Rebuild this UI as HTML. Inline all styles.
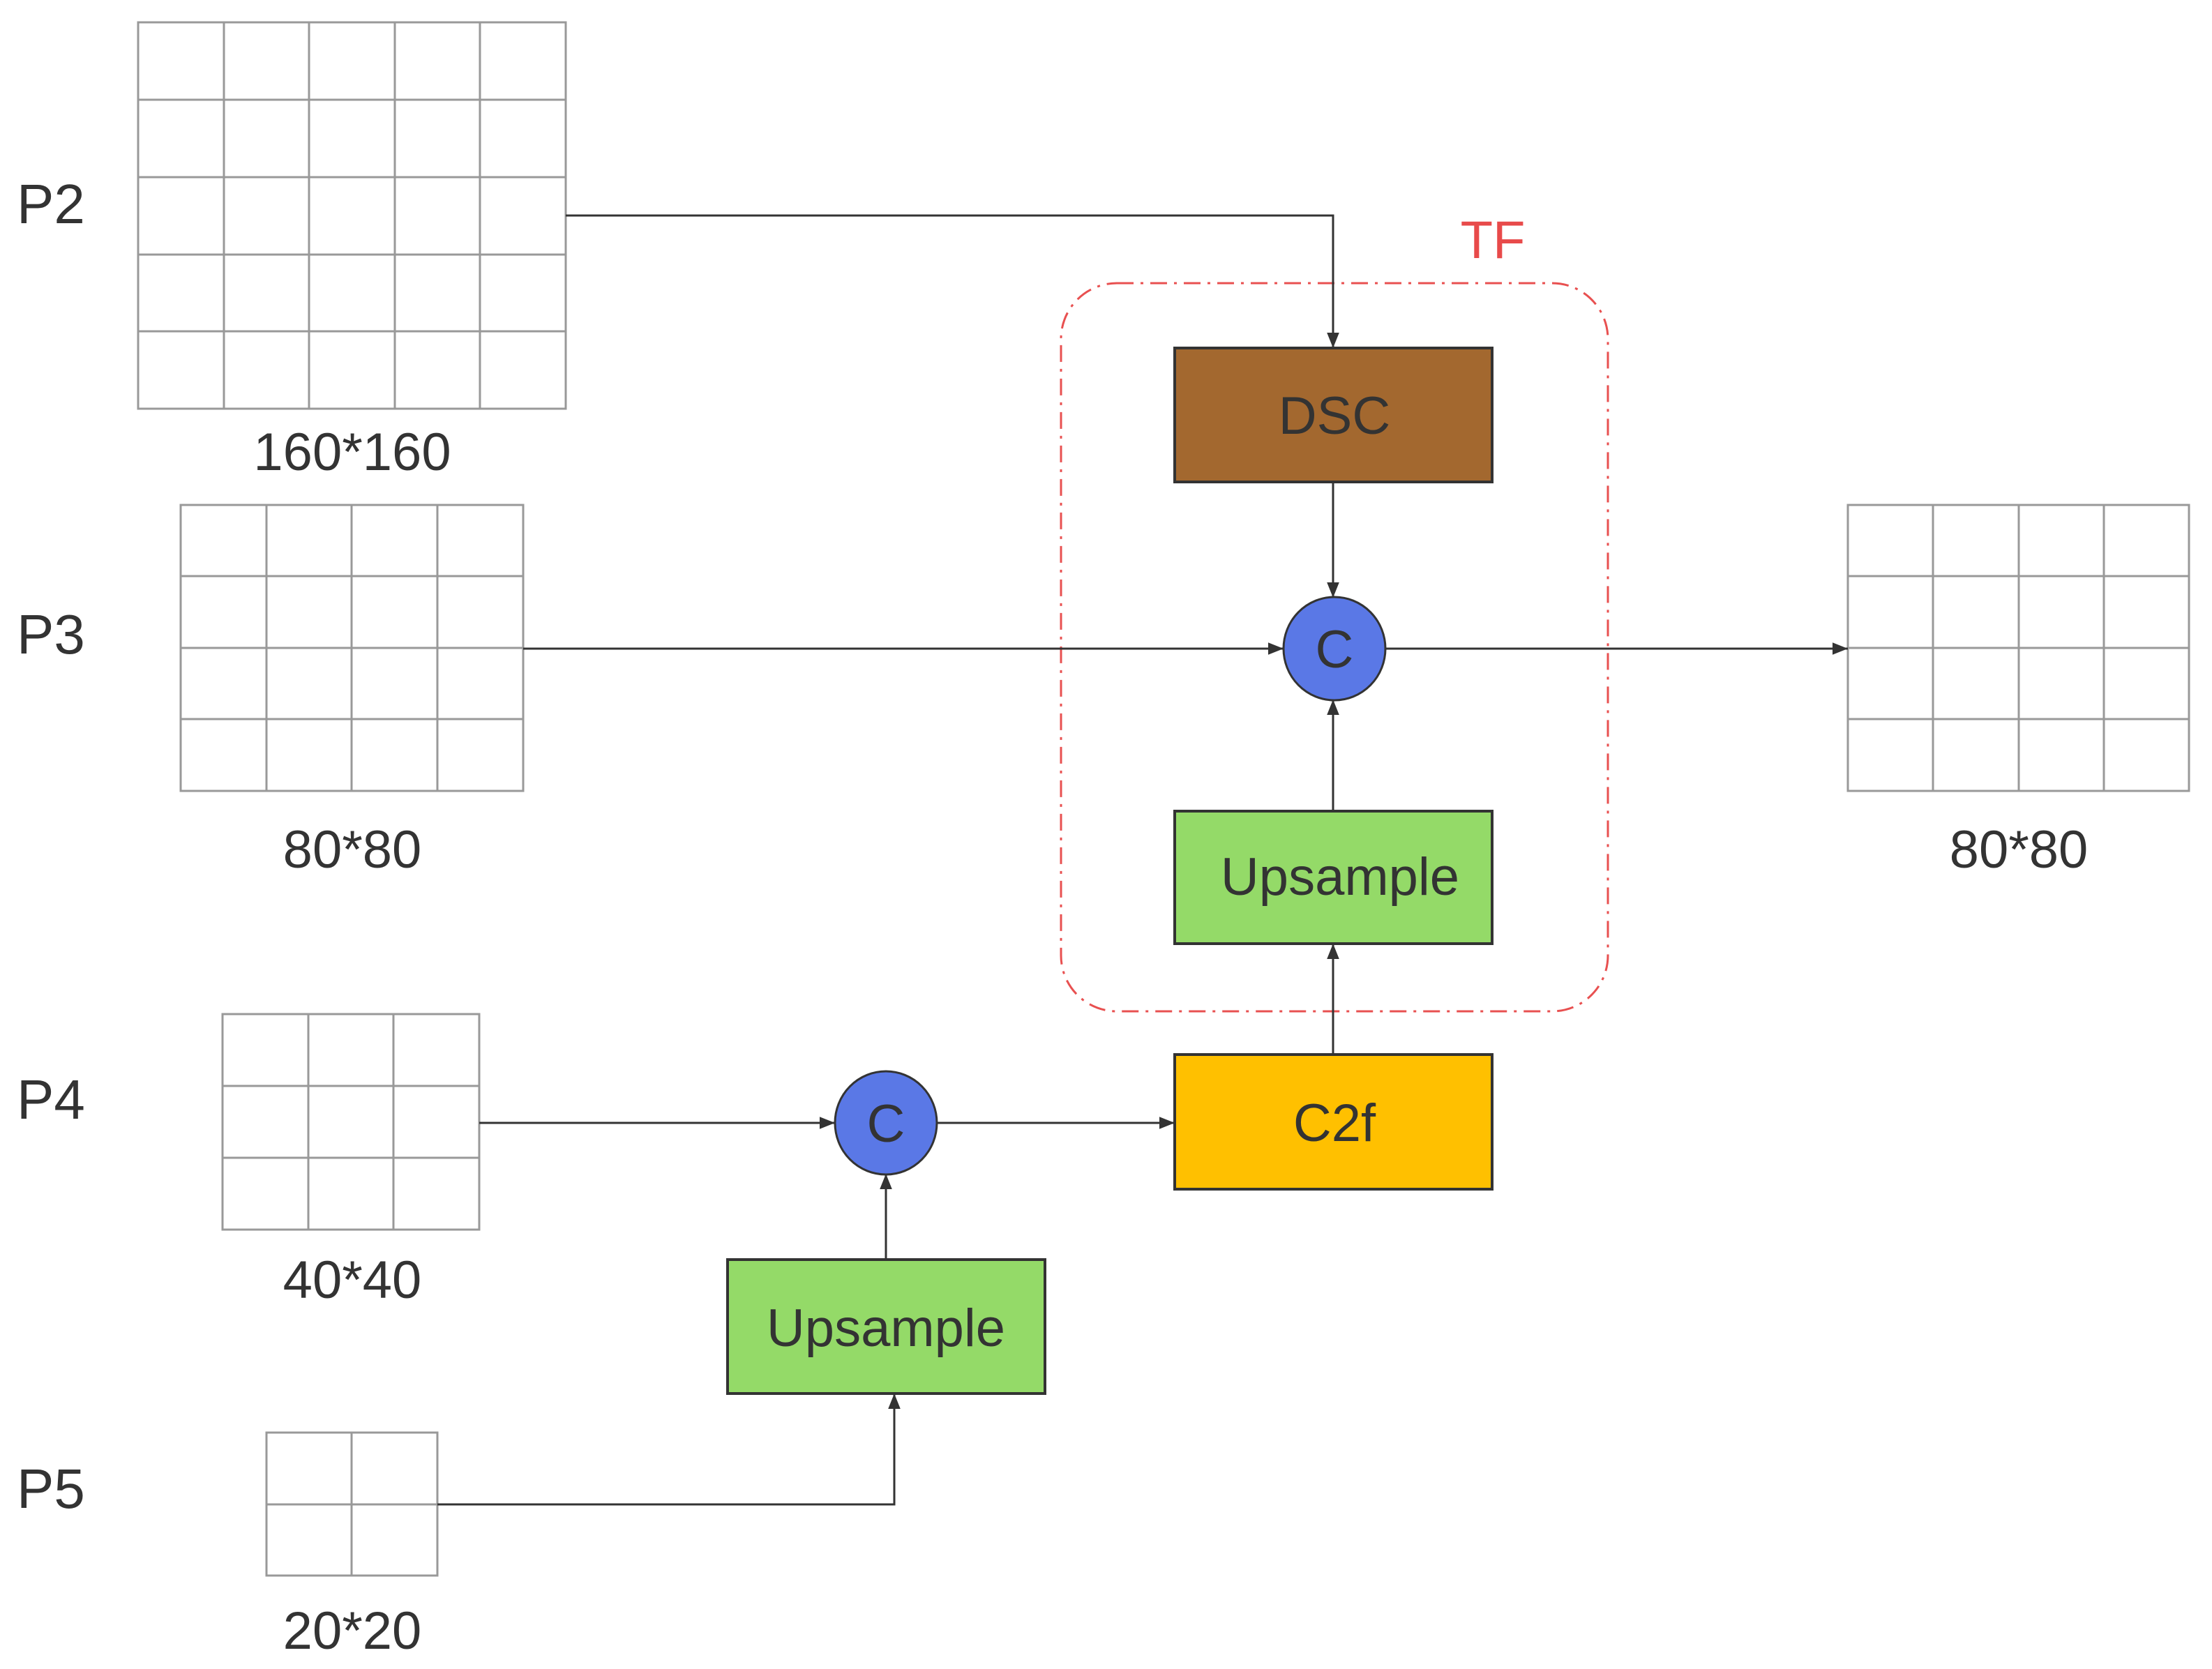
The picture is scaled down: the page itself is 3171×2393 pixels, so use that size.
<!DOCTYPE html>
<html><head><meta charset="utf-8"><style>html,body{margin:0;padding:0;background:#fff}svg{display:block}</style></head>
<body>
<svg width="3171" height="2393" viewBox="0 0 3171 2393" xmlns="http://www.w3.org/2000/svg" font-family="Liberation Sans, sans-serif">
<defs>
<marker id="a" viewBox="0 0 10 10" refX="10" refY="5" markerWidth="7" markerHeight="7" orient="auto" markerUnits="userSpaceOnUse">
</marker>
<marker id="ar" viewBox="0 0 10 10" refX="10" refY="5" markerWidth="22" markerHeight="22" orient="auto" markerUnits="userSpaceOnUse"><path d="M0,1 L10,5 L0,9 z" fill="#333"/></marker>
</defs>
<g stroke="#999" stroke-width="3" fill="none">
<!-- P2 grid 5x5 -->
<rect x="198" y="32" width="613" height="554"/>
<path d="M321,32V586M443,32V586M566,32V586M688,32V586M198,143H811M198,254H811M198,365H811M198,475H811"/>
<!-- P3 grid 4x4 -->
<rect x="259" y="724" width="491" height="410"/>
<path d="M382,724V1134M504,724V1134M627,724V1134M259,826H750M259,929H750M259,1031H750"/>
<!-- P4 grid 3x3 -->
<rect x="319" y="1454" width="368" height="309"/>
<path d="M442,1454V1763M564,1454V1763M319,1557H687M319,1660H687"/>
<!-- P5 grid 2x2 -->
<rect x="382" y="2054" width="245" height="205"/>
<path d="M504,2054V2259M382,2157H627"/>
<!-- right grid 4x4 -->
<rect x="2649" y="724" width="489" height="410"/>
<path d="M2771,724V1134M2894,724V1134M3016,724V1134M2649,826H3138M2649,929H3138M2649,1031H3138"/>
</g>
<!-- TF dashed box -->
<rect x="1521" y="406" width="784" height="1044" rx="80" ry="80" fill="none" stroke="#E85050" stroke-width="3" stroke-dasharray="24,10,4,10"/>
<text x="2140" y="370" font-size="76" fill="#E84A4A" text-anchor="middle">TF</text>
<!-- connectors -->
<g stroke="#333" stroke-width="3" fill="none" marker-end="url(#ar)">
<path d="M811,309H1911V499"/>
<path d="M1911,691V857"/>
<path d="M750,930H1840"/>
<path d="M1986,930H2649"/>
<path d="M1911,1163V1003"/>
<path d="M1911,1512V1353"/>
<path d="M687,1610H1197"/>
<path d="M1343,1610H1684"/>
<path d="M1270,1806V1683"/>
<path d="M627,2157H1282V1998"/>
</g>
<!-- boxes -->
<rect x="1684" y="499" width="455" height="192" fill="#A3682F" stroke="#333" stroke-width="4"/>
<rect x="1684" y="1163" width="455" height="190" fill="#94DA68" stroke="#333" stroke-width="4"/>
<rect x="1684" y="1512" width="455" height="193" fill="#FFC000" stroke="#333" stroke-width="4"/>
<rect x="1043" y="1806" width="455" height="192" fill="#94DA68" stroke="#333" stroke-width="4"/>
<ellipse cx="1913" cy="930" rx="73" ry="74" fill="#5A78E6" stroke="#333" stroke-width="3"/>
<ellipse cx="1270" cy="1610" rx="73" ry="74" fill="#5A78E6" stroke="#333" stroke-width="3"/>
<g font-size="76" fill="#333" text-anchor="middle">
<text x="1913" y="622">DSC</text>
<text x="1921" y="1283">Upsample</text>
<text x="1913" y="1636">C2f</text>
<text x="1270" y="1930">Upsample</text>
<text x="1913" y="957">C</text>
<text x="1270" y="1637">C</text>
<text x="505" y="674">160*160</text>
<text x="505" y="1244">80*80</text>
<text x="2894" y="1244">80*80</text>
<text x="505" y="1861">40*40</text>
<text x="505" y="2364">20*20</text>
</g>
<g font-size="80" fill="#333">
<text x="24" y="320">P2</text>
<text x="24" y="937">P3</text>
<text x="24" y="1604">P4</text>
<text x="24" y="2162">P5</text>
</g>
</svg>
</body></html>
